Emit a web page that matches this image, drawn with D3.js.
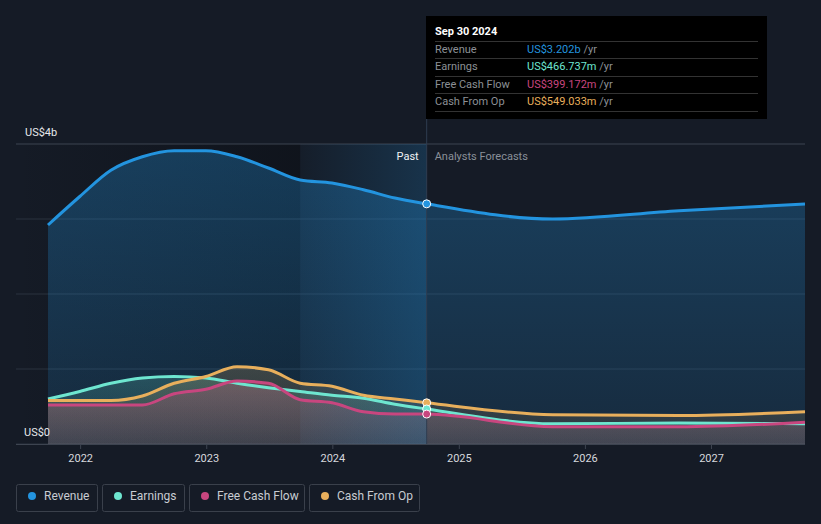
<!DOCTYPE html>
<html>
<head>
<meta charset="utf-8">
<script src="https://cdn.jsdelivr.net/npm/d3@7"></script>
<style>
  body { margin: 0; background: #151b26; }
  svg { display: block; font-family: Roboto, "Noto Sans", sans-serif; }
</style>
</head>
<body>
<div id="chart"></div>
<script>
// quarterly history, then analyst forecasts (fiscal years ending Sep)
const dates = ["2021-09-30", "2021-12-31", "2022-03-31", "2022-06-30", "2022-09-30", "2022-12-31",
  "2023-03-31", "2023-06-30", "2023-09-30", "2023-12-31", "2024-03-31", "2024-06-30", "2024-09-30",
  "2025-09-30", "2026-09-30", "2027-09-30"]
const revenue  = [2.92, 3.30, 3.65, 3.83, 3.91, 3.91, 3.83, 3.68, 3.52, 3.48, 3.39, 3.28, 3.202, 3.00, 3.11, 3.20]
const earnings = [0.60, 0.70, 0.81, 0.88, 0.90, 0.88, 0.81, 0.75, 0.70, 0.65, 0.61, 0.53, 0.467, 0.27, 0.28, 0.27]
const fcf      = [0.52, 0.52, 0.52, 0.52, 0.67, 0.73, 0.84, 0.81, 0.59, 0.55, 0.43, 0.40, 0.399, 0.23, 0.23, 0.29]
const cfo      = [0.58, 0.58, 0.58, 0.64, 0.81, 0.90, 1.03, 0.99, 0.81, 0.77, 0.65, 0.60, 0.549, 0.39, 0.38, 0.43]

const y_ticks = [0, 1, 2, 3, 4]
const tooltip_rows = [
  ["Revenue", "US$3.202b"],
  ["Earnings", "US$466.737m"],
  ["Free Cash Flow", "US$399.172m"],
  ["Cash From Op", "US$549.033m"]
]

const series = [
  { name: "Revenue", values: revenue, color: "#2394df", fill: 0.22 },
  { name: "Earnings", values: earnings, color: "#6ee6d0", fill: 0.14 },
  { name: "Free Cash Flow", values: fcf, color: "#c8467f", fill: 0.2 },
  { name: "Cash From Op", values: cfo, color: "#e8af5c", fill: 0.14 }
]

const width = 821, height = 524
const parse = d3.timeParse("%Y-%m-%d")
const dts = dates.map(parse)
const now = parse("2024-09-30")
const past_start = parse("2023-09-30")

const x = d3.scaleTime().domain([dts[0], dts[dts.length - 1]]).range([48, 805])
const y = d3.scaleLinear().domain([0, 4]).range([444, 144])

const svg = d3.select("#chart").append("svg")
  .attr("width", width)
  .attr("height", height)

const defs = svg.append("defs")

// darkening towards the past band
const bg_grad = defs.append("linearGradient").attr("id", "bg_grad")
bg_grad.append("stop").attr("offset", "0%").attr("stop-color", "#0b0e14").attr("stop-opacity", 0)
bg_grad.append("stop").attr("offset", "100%").attr("stop-color", "#0b0e14").attr("stop-opacity", 0.55)

const band_grad = defs.append("linearGradient").attr("id", "band_grad")
band_grad.append("stop").attr("offset", "0%").attr("stop-color", "#2394df").attr("stop-opacity", 0.02)
band_grad.append("stop").attr("offset", "100%").attr("stop-color", "#2394df").attr("stop-opacity", 0.2)

series.forEach((s, i) => {
  const g = defs.append("linearGradient").attr("id", "fill_" + i)
    .attr("x1", 0).attr("x2", 0).attr("y1", 0).attr("y2", 1)
  g.append("stop").attr("offset", "0%").attr("stop-color", s.color).attr("stop-opacity", s.fill * 1.4)
  g.append("stop").attr("offset", "100%").attr("stop-color", s.color).attr("stop-opacity", s.fill * 0.6)
})

svg.append("rect")
  .attr("x", 16).attr("y", 144)
  .attr("width", x(past_start) - 16).attr("height", 300)
  .attr("fill", "url(#bg_grad)")

// gridlines
svg.selectAll(".grid")
  .data(y_ticks)
  .join("line")
  .attr("x1", 16).attr("x2", 805)
  .attr("y1", d => y(d)).attr("y2", d => y(d))
  .attr("stroke", d => d == 4 ? "#3d4450" : "#2a323e")
  .attr("stroke-width", 1)

// areas
series.forEach((s, i) => {
  const area = d3.area()
    .x((d, j) => x(dts[j]))
    .y0(y(0))
    .y1(d => y(d))
    .curve(d3.curveMonotoneX)
  svg.append("path")
    .datum(s.values)
    .attr("d", area)
    .attr("fill", `url(#fill_${i})`)
})

// past year band
svg.append("rect")
  .attr("x", x(past_start)).attr("y", 144)
  .attr("width", x(now) - x(past_start)).attr("height", 300)
  .attr("fill", "url(#band_grad)")

// lines
series.forEach((s) => {
  const line = d3.line()
    .x((d, j) => x(dts[j]))
    .y(d => y(d))
    .curve(d3.curveMonotoneX)
  svg.append("path")
    .datum(s.values)
    .attr("d", line)
    .attr("fill", "none")
    .attr("stroke", s.color)
    .attr("stroke-width", 3)
})

// bottom axis
svg.append("line")
  .attr("x1", 16).attr("x2", 805)
  .attr("y1", 444.5).attr("y2", 444.5)
  .attr("stroke", "#3d4450")

const x_axis = svg.append("g")
  .attr("transform", "translate(0,444)")
  .call(d3.axisBottom(x).ticks(d3.timeYear.every(1)).tickFormat(d3.timeFormat("%Y")).tickSize(5).tickPadding(5))
x_axis.select(".domain").remove()
x_axis.selectAll("line").attr("stroke", "#3d4450")
x_axis.selectAll("text")
  .attr("fill", "#d5d8dd")
  .style("font-size", "11px")
  .style("font-family", "Roboto, sans-serif")

// y labels
svg.append("text").attr("x", 25).attr("y", 136)
  .attr("fill", "#e6e8eb").style("font-size", "11px").text("US$4b")
svg.append("text").attr("x", 24).attr("y", 436)
  .attr("fill", "#e6e8eb").style("font-size", "11px").text("US$0")

// divider at current date
svg.append("line")
  .attr("x1", x(now)).attr("x2", x(now))
  .attr("y1", 16).attr("y2", 444)
  .attr("stroke", "#2e3d50")
  .attr("stroke-width", 1)

svg.append("text").attr("x", x(now) - 8).attr("y", 160)
  .attr("text-anchor", "end").attr("fill", "#f0f2f4")
  .style("font-size", "11px").text("Past")
svg.append("text").attr("x", x(now) + 8).attr("y", 160)
  .attr("fill", "#8a9099")
  .style("font-size", "11px").text("Analysts Forecasts")

// dots on the current date
const now_idx = dates.indexOf("2024-09-30")
svg.selectAll(".dot")
  .data([series[3], series[1], series[2], series[0]])
  .join("circle")
  .attr("cx", x(now))
  .attr("cy", d => y(d.values[now_idx]))
  .attr("r", 4)
  .attr("fill", d => d.color)
  .attr("stroke", "#ffffff")
  .attr("stroke-width", 1)

// tooltip
const tip = svg.append("g")
tip.append("rect")
  .attr("x", 426).attr("y", 16)
  .attr("width", 341).attr("height", 103)
  .attr("fill", "#000000")
tip.append("text").attr("x", 435).attr("y", 35)
  .attr("fill", "#ffffff").style("font-size", "11px").style("font-weight", "700")
  .text("Sep 30 2024")
tip.selectAll(".sep")
  .data([41, 58, 76, 93, 111])
  .join("line")
  .attr("x1", 435).attr("x2", 758)
  .attr("y1", d => d + 0.5).attr("y2", d => d + 0.5)
  .attr("stroke", "#333333")
tooltip_rows.forEach((row, i) => {
  const yy = [53, 70, 88, 105][i]
  tip.append("text").attr("x", 435).attr("y", yy)
    .attr("fill", "#8c9096").style("font-size", "11px").text(row[0])
  const t = tip.append("text").attr("x", 527).attr("y", yy).style("font-size", "11px")
  t.append("tspan").attr("fill", series[i].color).text(row[1])
  t.append("tspan").attr("fill", "#8c9096").text(" /yr")
})

// legend
const legend_boxes = [[16, 81], [102, 82], [189, 115], [309, 110]]
series.forEach((s, i) => {
  const [bx, bw] = legend_boxes[i]
  const g = svg.append("g")
  g.append("rect")
    .attr("x", bx + 0.5).attr("y", 484.5)
    .attr("width", bw).attr("height", 27)
    .attr("rx", 2)
    .attr("fill", "none")
    .attr("stroke", "#3a404b")
  g.append("circle")
    .attr("cx", bx + 16).attr("cy", 496)
    .attr("r", 4)
    .attr("fill", s.color)
  g.append("text")
    .attr("x", bx + 28).attr("y", 500)
    .attr("fill", "#c8ccd2")
    .style("font-size", "12px")
    .text(s.name)
})
</script>
</body>
</html>
